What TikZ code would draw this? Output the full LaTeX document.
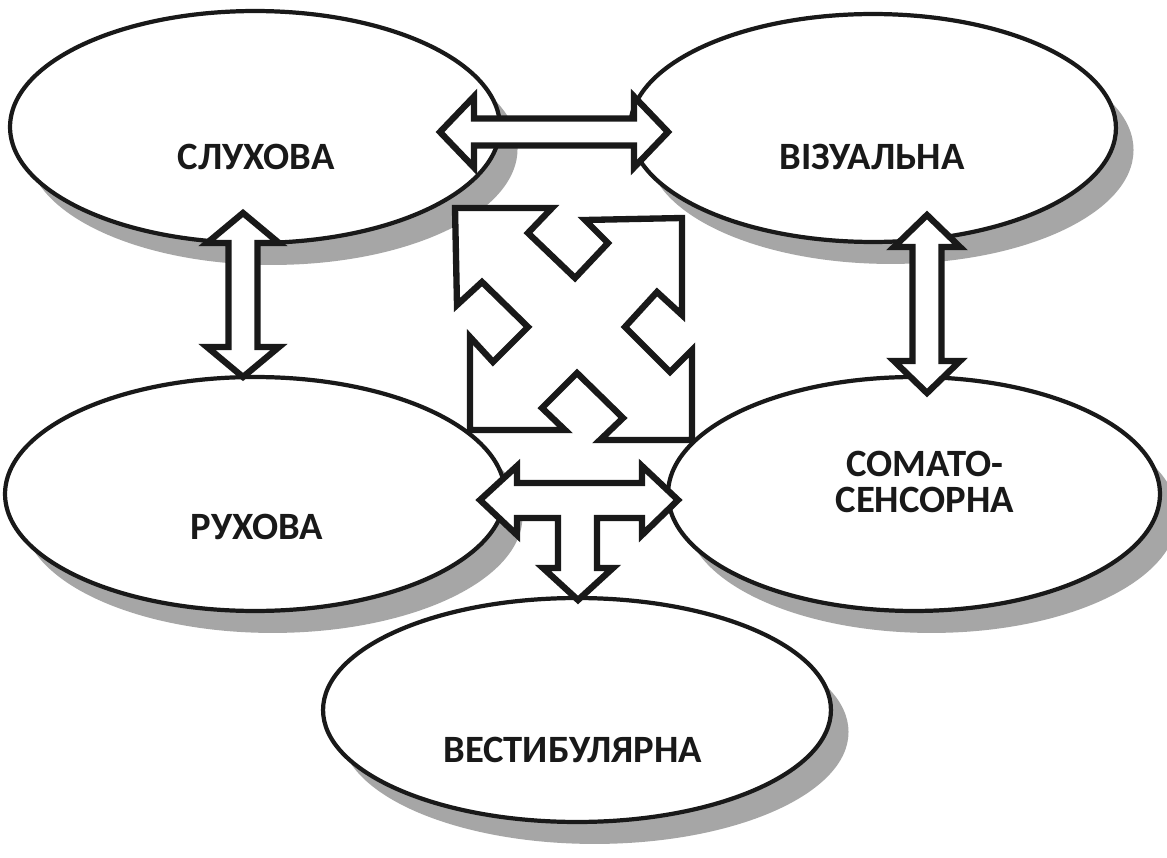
\documentclass[tikz,border=0pt]{standalone}
\usepackage{fontspec}
\setmainfont{Carlito}
\usetikzlibrary{shapes.geometric,shadows}
\tikzset{
  bub/.style={ellipse, draw=black!90, line width=2.4pt, fill=white, inner sep=0pt,
    drop shadow={shadow xshift=10pt, shadow yshift=-12.5pt, fill=black!35, opacity=1}},
  lbl/.style={font=\fontsize{22}{20}\selectfont\bfseries, text=black!90, align=center, inner sep=0pt},
  blk/.style={draw=black!90, fill=white, line width=3.6pt, line join=miter}
}
\newcommand\dblh[6]{% x1 x2 y s h L
  \draw[blk] (#1,#3) -- ({#1+#6},{#3-#5}) -- ({#1+#6},{#3-#4}) -- ({#2-#6},{#3-#4}) -- ({#2-#6},{#3-#5}) -- (#2,#3) -- ({#2-#6},{#3+#5}) -- ({#2-#6},{#3+#4}) -- ({#1+#6},{#3+#4}) -- ({#1+#6},{#3+#5}) -- cycle;}
\newcommand\dblv[6]{% y1 y2 x s h L
  \draw[blk] (#3,#1) -- ({#3-#5},{#1+#6}) -- ({#3-#4},{#1+#6}) -- ({#3-#4},{#2-#6}) -- ({#3-#5},{#2-#6}) -- (#3,#2) -- ({#3+#5},{#2-#6}) -- ({#3+#4},{#2-#6}) -- ({#3+#4},{#1+#6}) -- ({#3+#5},{#1+#6}) -- cycle;}
\begin{document}
\begin{tikzpicture}[x=0.02cm,y=-0.02cm]
\useasboundingbox[fill=white] (0,0) rectangle (1167,858);
% ellipses
\node[bub, minimum width=9.8cm, minimum height=4.64cm] (e1) at (255,127) {};
\node[bub, minimum width=9.72cm, minimum height=4.56cm] (e2) at (873,128) {};
\node[bub, minimum width=10.0cm, minimum height=4.68cm] (e3) at (255,494) {};
\node[bub, minimum width=9.84cm, minimum height=4.68cm] (e4) at (914,494) {};
\node[bub, minimum width=10.16cm, minimum height=4.48cm] (e5) at (577,710) {};
% labels
\node[lbl] (t1) at (256,157) {СЛУХОВА};
\node[lbl] (t2) at (872,157) {ВІЗУАЛЬНА};
\node[lbl] (t3) at (257,527) {РУХОВА};
\node[lbl] (t4) at (925,482) {СОМАТО-\\СЕНСОРНА};
\node[lbl] (t5) at (573,750) {ВЕСТИБУЛЯРНА};
% block arrows
\dblh{440}{668}{132}{13.5}{35.5}{34}
\dblv{213}{377}{243}{14.5}{36}{30}
\dblv{215}{393}{927}{14.5}{33}{32}
% T arrow
\draw[blk] (480,500) -- (517,466) -- (517,483) -- (642,483) -- (642,466) -- (678,500)
  -- (642,535) -- (642,518) -- (597,518) -- (597,568) -- (613,568) -- (578,600)
  -- (543,568) -- (558,568) -- (558,518) -- (517,518) -- (517,535) -- cycle;
% X arrows
\draw[blk] (455,208) -- (552,208) -- (528,233) -- (575,278) -- (608,243) -- (585,220)
  -- (682,218) -- (682,315) -- (657,292) -- (625,327) -- (670,372) -- (692,350)
  -- (692,440) -- (600,440) -- (623,418) -- (577,373) -- (542,408) -- (565,430)
  -- (470,430) -- (470,337) -- (493,362) -- (528,327) -- (482,282) -- (457,305) -- cycle;
\end{tikzpicture}
\end{document}
